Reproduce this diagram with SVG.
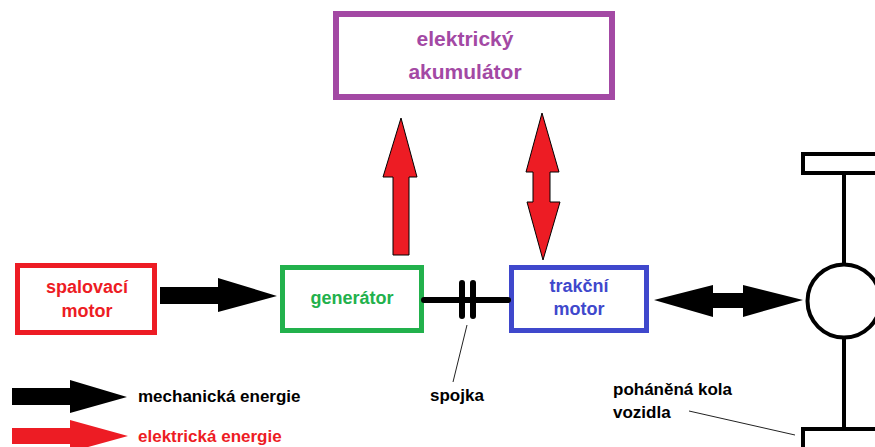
<svg xmlns="http://www.w3.org/2000/svg" width="875" height="447" viewBox="0 0 875 447">
<style>
text{font-family:"Liberation Sans",Arial,sans-serif;font-weight:bold;}
.box{fill:#fff;stroke-width:5;}
.lbl{font-size:18px;text-anchor:middle;}
.red{fill:#ed1c24;stroke:#000;stroke-width:1;stroke-linejoin:miter;}
.blk{fill:#000;}
.lead{stroke:#222;stroke-width:1;fill:none;}
.wheel{stroke:#000;stroke-width:4;fill:#fff;}
</style>
<rect width="875" height="447" fill="#fff"/>
<g id="akumulator">
<rect x="336" y="14" width="276" height="83" fill="#fff" stroke="#a349a4" stroke-width="6"/>
<text class="lbl" x="465" y="46" font-size="21" fill="#a349a4" style="font-size:21px">elektrický</text>
<text class="lbl" x="465" y="79" fill="#a349a4" style="font-size:21px">akumulátor</text>
</g>
<g id="spalovaci">
<rect class="box" x="17.5" y="265.5" width="137" height="67" stroke="#ed1c24"/>
<text class="lbl" x="87" y="293" fill="#ed1c24">spalovací</text>
<text class="lbl" x="87" y="317" fill="#ed1c24">motor</text>
</g>
<g id="generator">
<rect class="box" x="282.5" y="267.5" width="139" height="63" stroke="#22b14c"/>
<text class="lbl" x="352" y="304" fill="#22b14c">generátor</text>
</g>
<g id="trakcni">
<rect class="box" x="511.5" y="267.5" width="135" height="63" stroke="#3f48cc"/>
<text class="lbl" x="579" y="292" fill="#3f48cc">trakční</text>
<text class="lbl" x="579" y="315" fill="#3f48cc">motor</text>
</g>
<g id="kola">
<rect class="wheel" x="803" y="154" width="100" height="19"/>
<rect class="wheel" x="803" y="429" width="100" height="30"/>
<line x1="844" y1="173" x2="844" y2="264" stroke="#000" stroke-width="4"/>
<line x1="844" y1="338" x2="844" y2="429" stroke="#000" stroke-width="4"/>
<circle class="wheel" cx="844" cy="301" r="36.5"/>
</g>
<g id="spojka">
<line x1="424" y1="300" x2="508" y2="300" stroke="#000" stroke-width="6" stroke-linecap="round"/>
<line x1="462" y1="283" x2="462" y2="316" stroke="#000" stroke-width="6" stroke-linecap="round"/>
<line x1="473" y1="283" x2="473" y2="316" stroke="#000" stroke-width="6" stroke-linecap="round"/>
</g>
<g id="connectors">
<polygon class="blk" points="160,287 218,287 218,278 277,296 218,312 218,304 160,304"/>
<polygon class="red" points="393,255 393,177 383,177 401,118 417,177 409,177 409,255"/>
<polygon class="red" points="542,113 559,172 550,172 550,202 560,202 543,260 527,202 533,202 533,172 526,172"/>
<polygon class="blk" points="654,300 713,285 713,293 743,293 743,285 803,300 743,317 743,308 713,308 713,317"/>
<line class="lead" x1="467" y1="325" x2="453" y2="382"/>
<line class="lead" x1="689" y1="411" x2="795" y2="435"/>
</g>
<g id="labels">
<text x="430" y="401" style="font-size:17px" fill="#000">spojka</text>
<text x="613" y="395" style="font-size:17px" fill="#000">poháněná kola</text>
<text x="613" y="418" style="font-size:17px" fill="#000">vozidla</text>
</g>
<g id="legenda">
<polygon class="blk" points="12,388 70,388 70,380 127,397 70,413 70,405 12,405"/>
<polygon class="red" stroke="none" points="12,428 70,428 70,420 128,436 70,452 70,444 12,444" style="stroke:none"/>
<text x="138" y="402" style="font-size:17px" fill="#000">mechanická energie</text>
<text x="138" y="442" style="font-size:17px" fill="#ed1c24">elektrická energie</text>
</g>
</svg>
